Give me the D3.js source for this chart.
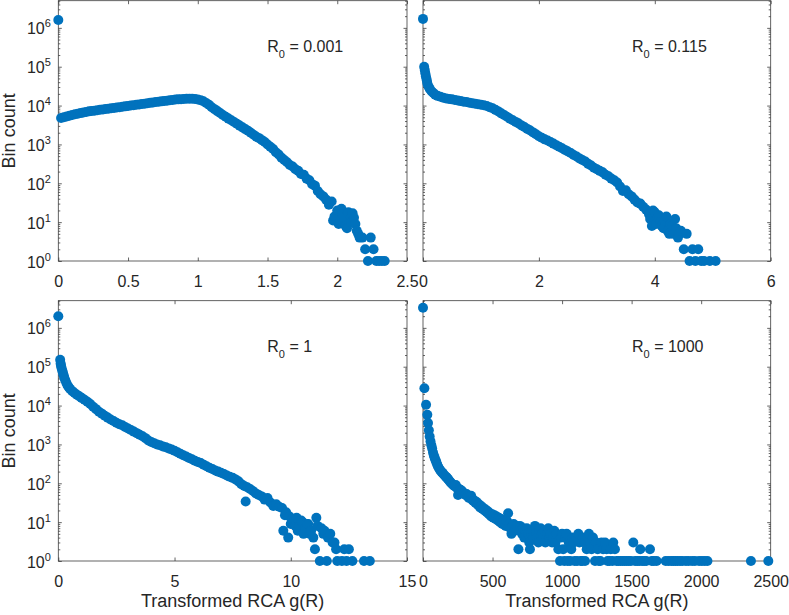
<!DOCTYPE html>
<html>
<head>
<meta charset="utf-8">
<script src="https://cdn.jsdelivr.net/npm/d3@7"></script>
<style>
  body { margin: 0; background: #fff; }
  svg { display: block; font-family: "Liberation Sans", Arial, sans-serif; }
</style>
</head>
<body>
<script>
// bin counts: [g(R), count]
const countsR0001 = [
  [0,1600000],[0.02,4800],[0.04,5000],[0.06,5250],[0.08,5500],[0.10,5750],[0.12,5950],[0.14,6150],
  [0.16,6400],[0.18,6600],[0.20,6850],[0.22,7100],[0.24,7250],[0.26,7400],[0.28,7600],[0.30,7800],
  [0.32,7950],[0.34,8150],[0.36,8300],[0.38,8500],[0.40,8700],[0.42,8900],[0.44,9100],[0.46,9300],
  [0.48,9550],[0.50,9750],[0.52,10000],[0.54,10200],[0.56,10450],[0.58,10700],[0.60,10950],[0.62,11200],
  [0.64,11500],[0.66,11750],[0.68,12000],[0.70,12300],[0.72,12550],[0.74,12850],[0.76,13150],[0.78,13400],
  [0.80,13700],[0.82,14000],[0.84,14300],[0.86,14450],[0.88,14600],[0.90,14800],[0.92,14950],[0.94,15000],
  [0.96,14950],[0.98,14800],[1.00,14400],[1.02,13800],[1.04,12900],[1.06,11700],[1.08,10500],[1.10,9100],
  [1.12,8100],[1.14,7200],[1.16,6450],[1.18,5750],[1.20,5130],[1.22,4620],[1.24,4170],[1.26,3760],
  [1.28,3390],[1.30,3050],[1.32,2750],[1.34,2480],[1.36,2240],[1.38,2000],[1.40,1780],[1.42,1580],
  [1.44,1450],[1.46,1290],[1.48,1150],[1.50,1000],[1.52,870],[1.54,760],[1.56,630],[1.58,550],
  [1.60,457],[1.62,398],[1.64,347],[1.66,295],[1.68,269],[1.70,229],[1.72,209],[1.74,174],
  [1.76,166],[1.78,132],[1.80,120],[1.82,95],[1.84,87],[1.86,63],[1.88,52],[1.90,46],
  [1.92,38],[1.94,28],[1.96,34],[1.97,11],[1.98,14],[2.00,20],[2.01,9],[2.02,11],[2.03,22],
  [2.04,16],[2.05,13],[2.06,8],[2.07,7],[2.08,18],[2.09,12],[2.10,10],[2.11,17],[2.12,13],
  [2.13,9],[2.14,6],[2.15,5],[2.16,4],[2.18,4],[2.20,2],[2.22,1],[2.24,4],[2.26,2],[2.28,1],
  [2.30,1],[2.32,1],[2.34,1]
];

const countsR0115 = [
  [0,1700000],[0.02,100000],[0.03,82000],[0.04,68000],[0.05,57000],[0.06,48000],[0.07,41000],[0.08,35000],
  [0.10,30000],[0.12,26500],[0.15,23000],[0.18,21000],[0.21,19000],[0.25,17800],[0.30,16800],[0.35,15900],
  [0.40,15300],[0.45,14800],[0.50,14450],[0.55,13960],[0.60,13490],[0.65,13030],[0.70,12590],[0.75,12300],
  [0.80,11890],[0.85,11480],[0.90,11220],[0.95,10840],[1.00,10470],[1.05,10230],[1.10,9770],[1.15,9120],
  [1.20,8510],[1.25,7760],[1.30,7080],[1.35,6310],[1.40,5750],[1.45,5130],[1.50,4570],[1.55,4170],
  [1.60,3800],[1.65,3470],[1.70,3090],[1.75,2820],[1.80,2510],[1.85,2290],[1.90,2040],[1.95,1820],
  [2.00,1620],[2.05,1480],[2.10,1350],[2.15,1260],[2.20,1150],[2.25,1050],[2.30,955],[2.35,871],
  [2.40,794],[2.45,724],[2.50,661],[2.55,603],[2.60,537],[2.65,490],[2.70,437],[2.75,398],
  [2.80,363],[2.85,316],[2.90,288],[2.95,251],[3.00,229],[3.05,209],[3.10,191],[3.15,166],
  [3.20,151],[3.25,132],[3.30,120],[3.35,105],[3.40,83],[3.45,63],[3.50,66],[3.55,52],
  [3.60,46],[3.65,38],[3.70,32],[3.75,30],[3.80,25],[3.85,21],[3.90,16],[3.92,12],[3.95,8],
  [3.97,20],[4.00,18],[4.02,9],[4.05,13],[4.07,15],[4.10,10],[4.12,8],[4.15,7],[4.17,11],
  [4.20,14],[4.22,6],[4.25,5],[4.27,9],[4.30,8],[4.32,5],[4.35,12],[4.37,7],[4.40,4],
  [4.42,5],[4.45,6],[4.50,2],[4.55,5],[4.60,1],[4.65,2],[4.70,1],[4.75,2],[4.80,1],
  [4.85,1],[4.95,1],[5.05,1]
];

const countsR01 = [
  [0,2000000],[0.08,150000],[0.10,120000],[0.12,105000],[0.14,92000],[0.17,80000],[0.20,70000],[0.23,60000],
  [0.26,52000],[0.30,45000],[0.35,38000],[0.40,33000],[0.45,29500],[0.50,27000],[0.60,23500],[0.70,21000],
  [0.80,19000],[0.90,17400],[1.00,15800],[1.125,14100],[1.25,12600],[1.375,11000],[1.50,9300],[1.625,8100],
  [1.75,6900],[1.875,6200],[2.00,5500],[2.125,4900],[2.25,4400],[2.375,4000],[2.50,3600],[2.625,3300],
  [2.75,3100],[2.875,2800],[3.00,2570],[3.125,2340],[3.25,2140],[3.375,1950],[3.50,1780],[3.625,1620],
  [3.75,1450],[3.875,1260],[4.00,1150],[4.125,1070],[4.25,1000],[4.375,955],[4.50,890],[4.625,850],
  [4.75,790],[4.875,740],[5.00,690],[5.125,630],[5.25,575],[5.375,525],[5.50,490],[5.625,447],
  [5.75,417],[5.875,380],[6.00,355],[6.125,331],[6.25,302],[6.375,275],[6.50,251],[6.625,234],
  [6.75,214],[6.875,200],[7.00,186],[7.125,174],[7.25,158],[7.375,148],[7.50,138],[7.625,126],
  [7.75,112],[7.875,95],[8.00,85],[8.06,34],[8.125,79],[8.25,71],[8.375,63],[8.50,55],
  [8.625,50],[8.75,46],[8.875,38],[9.00,42],[9.125,32],[9.25,26],[9.375,29],[9.50,25],
  [9.625,23],[9.68,6],[9.75,15],[9.80,18],[9.89,4],[9.95,14],[10.00,9],[10.06,12],
  [10.125,11],[10.20,8],[10.25,13],[10.30,6],[10.375,8],[10.45,11],[10.50,10],[10.55,5],
  [10.625,7],[10.70,9],[10.75,9],[10.82,5],[10.875,6],[10.97,4],[11.04,2],[11.10,13],
  [11.15,8],[11.25,1],[11.32,7],[11.40,5],[11.45,6],[11.55,1],[11.60,4],[11.70,5],
  [11.80,3],[11.88,3],[11.95,2],[12.00,1],[12.20,1],[12.30,2],[12.40,1],[12.50,2],
  [12.65,1],[13.15,1],[13.40,1]
];

const countsR01000 = [
  [0,3300000],[10,28000],[22,10500],[31,5800],[36,3550],[42,2300],[48,1600],[54,1200],
  [60,950],[66,780],[72,620],[78,520],[84,450],[90,395],[96,350],[102,305],
  [108,270],[116,240],[124,215],[132,200],[140,185],[148,170],[156,158],[164,148],
  [172,140],[180,128],[188,118],[196,108],[204,100],[212,94],[220,88],[228,84],
  [236,90],[244,76],[252,50],[258,72],[266,68],[274,66],[282,62],[290,56],
  [298,55],[306,50],[314,53],[322,46],[330,42],[338,44],[346,48],[354,38],
  [362,35],[370,36],[378,31],[386,33],[394,28],[402,29],[410,24],[418,26],
  [426,22],[434,23],[442,20],[450,21],[458,18],[466,19],[474,16],[482,17],
  [490,14],[498,16],[506,13],[514,15],[522,12],[530,14],[538,11],[546,13],
  [554,10],[562,12],[570,9],[578,11],[586,10],[594,8],[602,11],[612,17],
  [620,9],[628,7],[636,5],[644,8],[652,9],[660,6],[668,7],[676,8],
  [686,2],[697,8],[705,6],[712,5],[720,7],[728,4],[736,6],[746,7],
  [755,5],[764,3],[769,2],[778,5],[786,6],[794,4],[805,8],[814,5],
  [822,4],[830,3],[838,6],[846,7],[855,5],[864,4],[872,6],[880,3],
  [890,5],[901,7],[910,4],[918,5],[928,3],[936,4],[944,6],[952,3],
  [960,5],[973,2],[985,1],[992,4],[1000,5],[1008,2],[1016,1],[1024,4],
  [1033,5],[1040,1],[1048,3],[1058,1],[1066,2],[1075,4],[1083,3],[1090,1],
  [1100,4],[1108,1],[1117,5],[1125,3],[1135,1],[1144,1],[1150,4],[1160,3],
  [1165,1],[1177,2],[1185,4],[1193,5],[1202,3],[1212,2],[1222,4],[1237,1],
  [1246,3],[1256,2],[1265,1],[1275,1],[1284,3],[1295,2],[1309,3],[1320,2],
  [1328,1],[1340,1],[1350,2],[1362,1],[1368,3],[1380,2],[1392,1],[1405,1],
  [1420,1],[1435,1],[1450,1],[1465,1],[1480,1],[1495,1],[1512,3],[1525,1],
  [1540,1],[1555,1],[1562,2],[1575,1],[1590,1],[1605,1],[1632,2],[1645,1],
  [1660,1],[1680,1],[1745,1],[1765,1],[1785,1],[1800,1],[1815,1],[1830,1],
  [1848,1],[1865,1],[1890,1],[1910,1],[1935,1],[1955,1],[1985,1],[2005,1],
  [2025,1],[2045,1],[2358,1],[2483,1]
];

const r0Labels = ["0.001", "0.115", "1", "1000"];
const xTicksR0001 = [0, 0.5, 1, 1.5, 2, 2.5];
const xTicksR0115 = [0, 2, 4, 6];
const xTicksR01 = [0, 5, 10, 15];
const xTicksR01000 = [0, 500, 1000, 1500, 2000, 2500];
const yTickExps = [0, 1, 2, 3, 4, 5, 6];

const width = 789;
const height = 615;
const color = "#0072BD";
const ink = "#262626";
const axisColor = "#3c3c3c";
const yMax = 5e6;

const svg = d3.select("body").append("svg")
    .attr("width", width)
    .attr("height", height);

const panels = [
  {data: countsR0001, xDomain: [0, 2.5], xTicks: xTicksR0001, r0: r0Labels[0], left: 58.3, right: 407, top: 0.7, bottom: 261, yLabels: true, xTitle: false},
  {data: countsR0115, xDomain: [0, 6], xTicks: xTicksR0115, r0: r0Labels[1], left: 423, right: 770.7, top: 0.7, bottom: 261, yLabels: false, xTitle: false},
  {data: countsR01, xDomain: [0, 15], xTicks: xTicksR01, r0: r0Labels[2], left: 58.3, right: 407, top: 300.7, bottom: 561, yLabels: true, xTitle: true},
  {data: countsR01000, xDomain: [0, 2500], xTicks: xTicksR01000, r0: r0Labels[3], left: 423, right: 770.7, top: 300.7, bottom: 561, yLabels: false, xTitle: true}
];

const yMajor = yTickExps.map(e => Math.pow(10, e));
const yMinor = [];
yTickExps.forEach(e => {
  for (let m = 2; m <= 9; m++) {
    const v = m * Math.pow(10, e);
    if (v <= yMax) yMinor.push(v);
  }
});

function styleAxis(sel) {
  sel.select(".domain").remove();
  sel.selectAll(".tick line").attr("stroke", axisColor).attr("stroke-width", 0.8);
  sel.selectAll(".tick text")
      .attr("fill", ink)
      .attr("font-size", 16)
      .attr("font-family", "Liberation Sans, Arial, sans-serif");
}

panels.forEach(p => {
  const x = d3.scaleLinear().domain(p.xDomain).range([p.left, p.right]);
  const y = d3.scaleLog().domain([1, yMax]).range([p.bottom, p.top]);
  const g = svg.append("g");

  // axes box
  g.append("rect")
      .attr("x", p.left)
      .attr("y", p.top)
      .attr("width", p.right - p.left)
      .attr("height", p.bottom - p.top)
      .attr("fill", "none")
      .attr("stroke", axisColor)
      .attr("stroke-width", 0.8);

  // x ticks, pointing inwards, mirrored on top
  g.append("g")
      .attr("transform", `translate(0,${p.bottom})`)
      .call(d3.axisBottom(x).tickValues(p.xTicks).tickSize(-3.5).tickPadding(14.5).tickFormat(d3.format("")))
      .call(styleAxis);
  g.append("g")
      .attr("transform", `translate(0,${p.top})`)
      .call(d3.axisTop(x).tickValues(p.xTicks).tickSize(-3.5).tickFormat(""))
      .call(styleAxis);

  // y ticks (major and minor) on both sides
  [[d3.axisLeft, p.left], [d3.axisRight, p.right]].forEach(([axisFn, pos]) => {
    g.append("g")
        .attr("transform", `translate(${pos},0)`)
        .call(axisFn(y).tickValues(yMajor).tickSize(-3.5).tickFormat(""))
        .call(styleAxis);
    g.append("g")
        .attr("transform", `translate(${pos},0)`)
        .call(axisFn(y).tickValues(yMinor).tickSize(-2).tickFormat(""))
        .call(styleAxis);
  });

  // 10^k labels
  if (p.yLabels) {
    yTickExps.forEach(e => {
      const t = g.append("text")
          .attr("x", p.left - 7.5)
          .attr("y", y(Math.pow(10, e)) + 6.5)
          .attr("text-anchor", "end")
          .attr("fill", ink)
          .attr("font-size", 16);
      t.append("tspan").text("10");
      t.append("tspan").attr("font-size", 11).attr("dy", -7).text(e);
    });
    g.append("text")
        .attr("transform", `translate(15,${(p.top + p.bottom) / 2}) rotate(-90)`)
        .attr("text-anchor", "middle")
        .attr("fill", ink)
        .attr("font-size", 18)
        .text("Bin count");
  }

  if (p.xTitle) {
    g.append("text")
        .attr("x", (p.left + p.right) / 2)
        .attr("y", 607)
        .attr("text-anchor", "middle")
        .attr("fill", ink)
        .attr("font-size", 18)
        .text("Transformed RCA g(R)");
  }

  // R0 annotation
  const ann = g.append("text")
      .attr("x", p.left + 209)
      .attr("y", p.top + 51.3)
      .attr("fill", ink)
      .attr("font-size", 16);
  ann.append("tspan").text("R");
  ann.append("tspan").attr("font-size", 11).attr("dy", 5.5).text("0");
  ann.append("tspan").attr("dy", -5.5).text(" = " + p.r0);

  // scatter points (zero bins are not shown on the log axis)
  g.append("g")
      .selectAll("circle")
      .data(p.data.filter(d => d[1] > 0))
      .join("circle")
      .attr("cx", d => x(d[0]))
      .attr("cy", d => y(d[1]))
      .attr("r", 5)
      .attr("fill", color);
});
</script>
</body>
</html>
